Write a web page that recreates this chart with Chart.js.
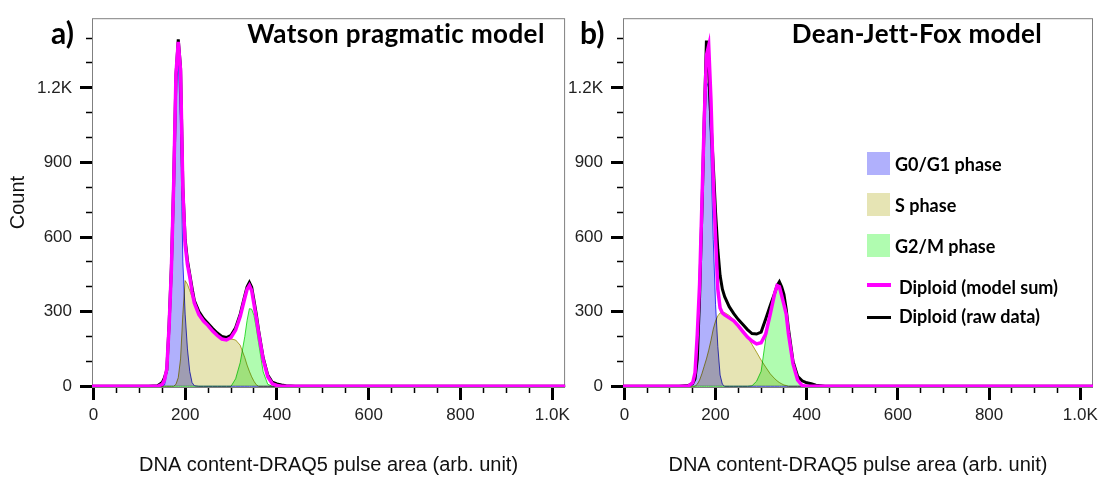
<!DOCTYPE html>
<html>
<head>
<meta charset="utf-8">
<script src="https://cdn.jsdelivr.net/npm/chart.js@4.4.1/dist/chart.umd.min.js"></script>
<style>
  body { margin: 0; background: #fff; width: 1103px; height: 482px; position: relative; overflow: hidden; }
  .panel { position: absolute; top: 0; height: 482px; }
  .txt { position: absolute; font-family: Lato, "Open Sans", sans-serif; font-weight: bold; color: #000; white-space: nowrap; line-height: 1; transform: translateY(-50%); }
  .ctr { transform: translate(-50%, -50%); }
  .sw { position: absolute; width: 23px; height: 23px; }
  .ln { position: absolute; width: 24px; }
</style>
</head>
<body>
<div class="panel" style="left:0;width:575px"><canvas id="chartA"></canvas></div>
<div class="panel" style="left:531px;width:572px"><canvas id="chartB"></canvas></div>

<div class="txt" style="left:51px;top:32px;font-size:30px">a)</div>
<div class="txt ctr" style="left:396px;top:33px;font-size:26px;letter-spacing:0.4px">Watson pragmatic model</div>
<div class="txt" style="left:580px;top:32px;font-size:30px">b)</div>
<div class="txt ctr" style="left:917px;top:33px;font-size:26px;letter-spacing:0.4px">Dean-Jett-Fox model</div>

<!-- legend (panel b) -->
<div class="sw" style="left:867px;top:152px;background:#b0b0fc"></div>
<div class="txt" style="left:895px;top:164px;font-size:18px">G0/G1 phase</div>
<div class="sw" style="left:867px;top:193px;background:#e6e4b4"></div>
<div class="txt" style="left:895px;top:205px;font-size:18px">S phase</div>
<div class="sw" style="left:867px;top:234px;background:#b0fcb0"></div>
<div class="txt" style="left:895px;top:246px;font-size:18px">G2/M phase</div>
<div class="ln" style="left:867px;top:283px;height:4px;background:#ff00ff"></div>
<div class="txt" style="left:899px;top:287px;font-size:18px">Diploid (model sum)</div>
<div class="ln" style="left:867px;top:316px;height:3px;background:#000"></div>
<div class="txt" style="left:899px;top:316px;font-size:18px">Diploid (raw data)</div>

<script>
// histogram bin centres (DNA content)
const xBins = [-10, 120, 140, 150, 155, 160, 165, 170, 175, 180, 185, 190, 195, 200, 205, 210, 215, 220, 230, 240,
  250, 260, 270, 280, 290, 300, 310, 320, 330, 335, 340, 345, 350, 355, 360, 370, 380, 390, 400, 410, 420, 440, 1040];

// a) Watson pragmatic model
const rawA   = [0, 0, 2, 15, 35, 65, 250, 480, 820, 1250, 1395, 1280, 800, 590, 505, 450, 395, 345, 300, 272,
  252, 232, 214, 200, 196, 205, 235, 290, 365, 400, 418, 398, 345, 290, 225, 115, 45, 16, 9, 5, 2, 0, 0];
const modelA = [0, 0, 0, 8, 25, 70, 240, 470, 815, 1255, 1385, 1270, 790, 570, 490, 440, 380, 335, 288, 262,
  244, 222, 204, 190, 186, 196, 226, 280, 355, 390, 405, 385, 330, 275, 215, 108, 38, 10, 3, 0, 0, 0, 0];
const g1A    = [0, 0, 0, 0, 5, 50, 230, 460, 800, 1200, 1320, 1050, 500, 290, 150, 60, 15, 2, 0, 0,
  0, 0, 0, 0, 0, 0, 0, 0, 0, 0, 0, 0, 0, 0, 0, 0, 0, 0, 0, 0, 0, 0, 0];
const sA     = [0, 0, 0, 0, 0, 0, 0, 0, 0, 8, 35, 110, 290, 425, 410, 385, 360, 330, 285, 262,
  242, 222, 204, 190, 186, 190, 186, 165, 115, 85, 60, 38, 20, 6, 0, 0, 0, 0, 0, 0, 0, 0, 0];
const g2A    = [0, 0, 0, 0, 0, 0, 0, 0, 0, 0, 0, 0, 0, 0, 0, 0, 0, 0, 0, 0,
  0, 0, 0, 0, 0, 0, 30, 95, 200, 265, 312, 310, 285, 235, 175, 58, 8, 0, 0, 0, 0, 0, 0];

// b) Dean-Jett-Fox model
const rawB   = [0, 0, 3, 12, 30, 110, 360, 700, 1060, 1390, 1260, 1060, 890, 700, 550, 445, 390, 360, 320, 292,
  268, 248, 228, 212, 210, 218, 270, 325, 376, 405, 420, 400, 370, 310, 230, 100, 40, 22, 14, 10, 4, 0, 0];
const modelB = [0, 0, 0, 15, 55, 210, 410, 730, 1060, 1330, 1370, 1150, 830, 600, 390, 315, 295, 287, 275, 263,
  243, 220, 198, 182, 170, 175, 210, 290, 375, 405, 400, 365, 328, 290, 210, 90, 25, 3, 0, 0, 0, 0, 0];
const g1B    = [0, 0, 0, 5, 30, 130, 300, 620, 950, 1225, 1200, 930, 590, 330, 160, 45, 8, 0, 0, 0,
  0, 0, 0, 0, 0, 0, 0, 0, 0, 0, 0, 0, 0, 0, 0, 0, 0, 0, 0, 0, 0, 0, 0];
const sB     = [0, 0, 0, 0, 0, 8, 25, 50, 80, 110, 145, 185, 230, 262, 283, 295, 298, 296, 285, 268,
  248, 225, 198, 168, 137, 105, 77, 50, 30, 22, 15, 10, 5, 3, 0, 0, 0, 0, 0, 0, 0, 0, 0];
const g2B    = [0, 0, 0, 0, 0, 0, 0, 0, 0, 0, 0, 0, 0, 0, 0, 0, 0, 0, 0, 0,
  0, 0, 0, 2, 20, 60, 190, 300, 380, 400, 400, 375, 330, 280, 215, 95, 30, 6, 0, 0, 0, 0, 0];

// axis ticks
const xMajor = [0, 200, 400, 600, 800, 1000];
const xMajorLabels = ['0', '200', '400', '600', '800', '1.0K'];
const xMinor = [0, 50, 100, 150, 200, 250, 300, 350, 400, 450, 500, 550, 600, 650, 700, 750, 800, 850, 900, 950, 1000];
const yMajor = [0, 300, 600, 900, 1200];
const yMajorLabels = ['0', '300', '600', '900', '1.2K'];
const yMinor = [0, 100, 200, 300, 400, 500, 600, 700, 800, 900, 1000, 1100, 1200, 1300, 1400];

const tickFont = { family: '"Liberation Sans", Arial, sans-serif', size: 17 };
const titleFont = { family: '"Liberation Sans", Arial, sans-serif', size: 20 };

// overlapping phase areas are multiplied like in the original software
const blendPlugin = {
  id: 'blendPlugin',
  beforeDatasetsDraw(chart) {
    const ctx = chart.ctx, ca = chart.chartArea;
    ctx.save();
    ctx.strokeStyle = '#808080';
    ctx.lineWidth = 1;
    ctx.strokeRect(ca.left + 0.5, ca.top + 0.5, ca.right - ca.left - 1, ca.bottom - ca.top);
    ctx.restore();
    ctx.globalCompositeOperation = 'multiply';
  },
  beforeDatasetDraw(chart, args) {
    chart.ctx.globalCompositeOperation = chart.data.datasets[args.index].blend ? 'multiply' : 'source-over';
  },
  afterDatasetsDraw(chart) {
    chart.ctx.globalCompositeOperation = 'source-over';
  }
};

function makePanel(id, raw, model, g1, s, g2, showCount, padRight) {
  return new Chart(document.getElementById(id), {
    type: 'line',
    data: {
      labels: xBins,
      datasets: [
        { label: 'Diploid (model sum)', data: model, borderColor: '#ff00ff', borderWidth: 3.5, fill: false },
        { label: 'Diploid (raw data)', data: raw, borderColor: '#000000', borderWidth: 3, fill: false },
        { label: 'G0/G1 phase', data: g1, borderColor: '#3c3cf0', backgroundColor: '#b0b0fc', borderWidth: 1, fill: 'origin', blend: true },
        { label: 'S phase', data: s, borderColor: '#b4aa32', backgroundColor: '#e6e4b4', borderWidth: 1, fill: 'origin', blend: true },
        { label: 'G2/M phase', data: g2, borderColor: '#3cdc3c', backgroundColor: '#b0fcb0', borderWidth: 1, fill: 'origin', blend: true }
      ]
    },
    options: {
      responsive: true,
      maintainAspectRatio: false,
      animation: false,
      layout: { padding: { top: 8, right: padRight, bottom: 0, left: 0 } },
      elements: { point: { radius: 0 }, line: { tension: 0 } },
      plugins: { legend: { display: false }, tooltip: { enabled: false } },
      scales: {
        x: {
          type: 'linear', position: 'bottom', min: -3, max: 1028, weight: 1,
          afterBuildTicks: sc => { sc.ticks = xMajor.map(v => ({ value: v })); },
          afterFit: sc => { sc.height = 95; },
          grid: { drawOnChartArea: false, tickLength: 13, tickWidth: 3, tickColor: '#000' },
          border: { display: false },
          ticks: { padding: 5, font: tickFont, color: '#222', maxRotation: 0, autoSkip: false,
                   callback: (v, i) => xMajorLabels[i] },
          title: { display: true, text: 'DNA content-DRAQ5 pulse area (arb. unit)', font: titleFont, color: '#111',
                   padding: { top: 0, bottom: 5 } }
        },
        xm: {
          type: 'linear', position: 'bottom', min: -3, max: 1028, weight: 0,
          afterBuildTicks: sc => { sc.ticks = xMinor.map(v => ({ value: v })); },
          afterFit: sc => { sc.height = 0; },
          grid: { drawOnChartArea: false, tickLength: 6, tickWidth: 1.5, tickColor: '#000' },
          border: { display: false },
          ticks: { display: false }
        },
        y: {
          type: 'linear', position: 'left', min: -3, max: 1480, weight: 1,
          afterBuildTicks: sc => { sc.ticks = yMajor.map(v => ({ value: v })); },
          afterFit: sc => { sc.width = 92; },
          grid: { drawOnChartArea: false, tickLength: 12, tickWidth: 3, tickColor: '#000' },
          border: { display: false },
          ticks: { padding: 8, font: tickFont, color: '#222', autoSkip: false,
                   callback: (v, i) => yMajorLabels[i] },
          title: { display: showCount, text: 'Count', font: titleFont, color: '#111', padding: { top: 6, bottom: 0 } }
        },
        ym: {
          type: 'linear', position: 'left', min: -3, max: 1480, weight: 0,
          afterBuildTicks: sc => { sc.ticks = yMinor.map(v => ({ value: v })); },
          afterFit: sc => { sc.width = 0; },
          grid: { drawOnChartArea: false, tickLength: 6, tickWidth: 1.5, tickColor: '#000' },
          border: { display: false },
          ticks: { display: false }
        }
      }
    },
    plugins: [blendPlugin]
  });
}

makePanel('chartA', rawA, modelA, g1A, sA, g2A, true, 8);
makePanel('chartB', rawB, modelB, g1B, sB, g2B, false, 5);
</script>
</body>
</html>
